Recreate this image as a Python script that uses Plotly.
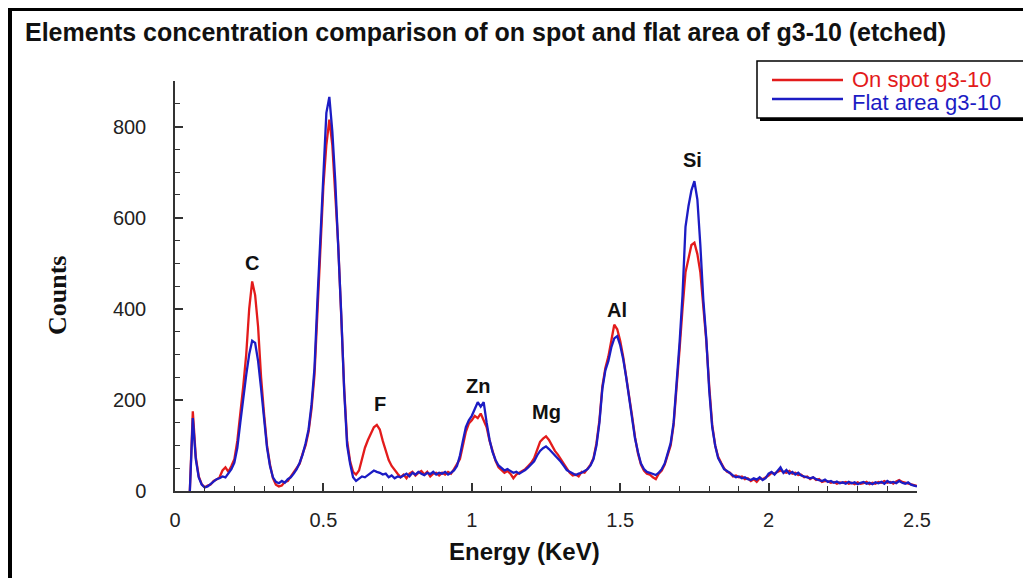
import plotly.graph_objects as go

# energy grid (KeV), 0.05 .. 2.50 in 0.01 steps
energy = [round(0.05 + 0.01 * i, 2) for i in range(246)]

# counts, "on spot g3-10" (red)
on_spot = [
    0, 175, 75, 32, 15, 8, 12, 14, 22, 25,
    30, 45, 52, 42, 55, 70, 110, 165, 230, 300,
    400, 460, 430, 360, 250, 170, 100, 58, 28, 14,
    10, 12, 20, 22, 32, 40, 50, 60, 82, 100,
    130, 180, 255, 390, 530, 670, 760, 815, 760, 660,
    540, 385, 225, 110, 65, 42, 36, 45, 70, 95,
    112, 125, 140, 145, 135, 110, 90, 68, 55, 45,
    38, 30, 36, 28, 38, 42, 34, 40, 44, 36,
    42, 32, 38, 40, 34, 40, 36, 42, 38, 48,
    60, 70, 100, 130, 148, 155, 165, 160, 170, 155,
    140, 110, 85, 66, 52, 46, 40, 44, 38, 28,
    36, 40, 44, 48, 55, 62, 72, 90, 108, 115,
    120, 112, 100, 88, 80, 70, 58, 48, 40, 34,
    36, 32, 42, 40, 50, 58, 72, 105, 155, 230,
    270, 295, 330, 365, 355, 330, 295, 255, 210, 165,
    118, 82, 58, 45, 38, 36, 30, 26, 38, 45,
    58, 78, 100, 145, 220, 310, 400, 480, 510, 540,
    545, 520, 480, 410, 330, 230, 145, 100, 75, 62,
    50, 42, 40, 32, 34, 30, 32, 26, 28, 22,
    26, 20, 28, 26, 30, 34, 40, 38, 42, 45,
    42, 40, 44, 38, 40, 35, 36, 30, 32, 26,
    30, 24, 26, 20, 22, 21, 18, 20, 16, 19,
    18, 20, 16, 18, 15, 19, 16, 17, 20, 15,
    18, 16, 20, 18, 22, 18, 20, 16, 21, 24,
    20, 18, 16, 15, 12, 11,
]

# counts, "flat area g3-10" (blue)
flat_area = [
    0, 160, 70, 30, 14, 8, 10, 15, 20, 26,
    28, 32, 30, 38, 48, 62, 95, 150, 205, 255,
    300, 330, 325, 285, 225, 155, 95, 55, 30, 20,
    17, 22, 18, 26, 30, 38, 48, 62, 80, 105,
    135, 190, 270, 420, 560, 700, 830, 865, 790, 680,
    545, 390, 220, 100, 60, 30, 22, 28, 32, 30,
    35, 38, 45, 42, 40, 36, 38, 30, 34, 28,
    32, 30, 35, 38, 32, 40, 36, 42, 38, 35,
    40, 37, 42, 36, 40, 38, 42, 36, 40, 45,
    55, 78, 110, 140, 155, 165, 180, 195, 185, 195,
    150, 112, 85, 68, 56, 50, 45, 48, 44, 40,
    42, 38, 42, 46, 52, 58, 65, 78, 88, 94,
    98, 92, 85, 78, 72, 64, 55, 46, 42, 38,
    35, 38, 40, 44, 48, 56, 70, 100, 150, 225,
    265, 285, 315, 335, 340, 320, 290, 250, 205, 160,
    115, 85, 60, 48, 42, 40, 38, 35, 40, 48,
    60, 80, 105, 150, 230, 325, 430, 580, 625, 660,
    680, 640, 540, 420, 335, 220, 140, 100, 72, 60,
    48, 44, 38, 34, 30, 32, 28, 30, 26, 24,
    28, 25, 30, 24, 28, 38, 42, 36, 44, 52,
    40, 46, 38, 42, 36, 40, 34, 32, 30, 28,
    30, 26, 24, 22, 25, 20, 22, 18, 21, 17,
    19, 16, 20, 17, 19, 15, 18, 20, 16, 18,
    15, 19, 17, 20, 16, 22, 18, 20, 17, 22,
    18, 16, 19, 14, 12, 10,
]

# peak labels
peak_names = ["C", "O", "F", "Zn", "Mg", "Al", "Si"]
peak_x = [0.26, 0.52, 0.69, 1.02, 1.25, 1.49, 1.745]
peak_y = [500, 903, 190, 231, 174, 398, 727]

legend_names = ["On spot g3-10", "Flat area g3-10"]
RED = "#e31b1b"
BLUE = "#1c1cc4"
SANS = "Arial, Liberation Sans, sans-serif"

# page puts the figure 8px in from the top left corner
OFF = 8

# plot area in window pixels: x 175..917, y 81..491
def px(x):
    return (x - 175) / 742.0

def py(y):
    return (491 - y) / 410.0

fig = go.Figure()
fig.add_trace(go.Scatter(x=energy, y=on_spot, mode="lines", name=legend_names[0],
                         line=dict(color=RED, width=2.3), showlegend=False))
fig.add_trace(go.Scatter(x=energy, y=flat_area, mode="lines", name=legend_names[1],
                         line=dict(color=BLUE, width=2.3), showlegend=False))

annots = []
for n, x, y in zip(peak_names, peak_x, peak_y):
    annots.append(dict(x=x, y=y, xref="x", yref="y", text="<b>%s</b>" % n, showarrow=False,
                       xanchor="center", yanchor="middle",
                       font=dict(family=SANS, size=20, color="#111")))

# y title (serif) and x title
annots.append(dict(x=px(57), y=py(296), xref="paper", yref="paper", text="<b>Counts</b>",
                   textangle=-90, showarrow=False, xanchor="center", yanchor="middle",
                   font=dict(family="Times New Roman, Liberation Serif, serif", size=26, color="#111")))
annots.append(dict(x=px(524), y=py(551), xref="paper", yref="paper", text="<b>Energy (KeV)</b>",
                   showarrow=False, xanchor="center", yanchor="middle",
                   font=dict(family=SANS, size=24, color="#111")))

# hand drawn legend box
annots.append(dict(x=px(850), y=py(79), xref="paper", yref="paper", text=legend_names[0],
                   xanchor="left", yanchor="middle", showarrow=False,
                   font=dict(family=SANS, size=22, color=RED)))
annots.append(dict(x=px(850), y=py(102), xref="paper", yref="paper", text=legend_names[1],
                   xanchor="left", yanchor="middle", showarrow=False,
                   font=dict(family=SANS, size=22, color=BLUE)))

shapes = [
    # outer frame
    dict(type="rect", xref="paper", yref="paper", x0=px(10), x1=px(1060), y0=py(9), y1=py(620),
         line=dict(color="black", width=4), layer="below"),
    # legend shadow + box
    dict(type="rect", xref="paper", yref="paper", x0=px(760), x1=px(1029), y0=py(64), y1=py(121),
         fillcolor="black", line=dict(width=0)),
    dict(type="rect", xref="paper", yref="paper", x0=px(757), x1=px(1025), y0=py(61), y1=py(118),
         fillcolor="white", line=dict(color="black", width=1.5)),
    dict(type="line", xref="paper", yref="paper", x0=px(772), x1=px(843), y0=py(80), y1=py(80),
         line=dict(color=RED, width=2.5)),
    dict(type="line", xref="paper", yref="paper", x0=px(772), x1=px(843), y0=py(99), y1=py(99),
         line=dict(color=BLUE, width=2.5)),
]

fig.update_layout(
    width=1031, height=578,
    margin=dict(l=175 - OFF, r=1031 - 917 + OFF, t=81 - OFF, b=578 - 491 + OFF),
    paper_bgcolor="white", plot_bgcolor="white",
    title=dict(text="<b>Elements concentration comparison of on spot and flat area of g3-10 (etched)</b>",
               x=(25 - OFF) / 1031, xanchor="left", y=1 - (32 - OFF) / 578, yanchor="middle",
               font=dict(family=SANS, size=25, color="#111")),
    annotations=annots, shapes=shapes,
    showlegend=False,
)
fig.update_xaxes(range=[0, 2.5], dtick=0.5, tick0=0, showgrid=False, zeroline=False,
                 showline=True, linecolor="#333", linewidth=1.5,
                 ticks="inside", ticklen=8, tickcolor="#333", tickwidth=1.5,
                 minor=dict(dtick=0.1, ticks="inside", ticklen=5, tickcolor="#333", tickwidth=1),
                 ticklabelstandoff=10,
                 tickfont=dict(family=SANS, size=20, color="#222"))
fig.update_yaxes(range=[0, 900], dtick=200, tick0=0, showgrid=False, zeroline=False,
                 showline=True, linecolor="#333", linewidth=1.5,
                 ticks="inside", ticklen=8, tickcolor="#333", tickwidth=1.5,
                 minor=dict(dtick=50, ticks="inside", ticklen=5, tickcolor="#333", tickwidth=1),
                 ticklabelstandoff=23,
                 tickfont=dict(family=SANS, size=20, color="#222"))

fig.write_html("out.html")
